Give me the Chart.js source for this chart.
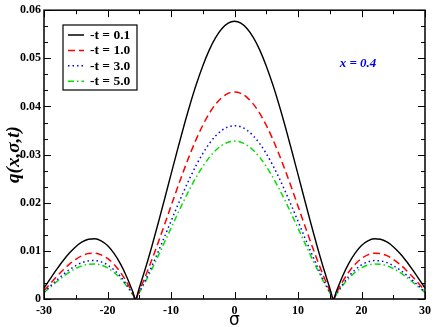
<!DOCTYPE html>
<html>
<head>
<meta charset="utf-8">
<script src="https://cdn.jsdelivr.net/npm/chart.js@4"></script>
<style>
  html, body { margin: 0; padding: 0; background: #fff; }
  #wrap { width: 436px; height: 327px; }
</style>
</head>
<body>
<div id="wrap"><canvas id="chart" width="436" height="327"></canvas></div>
<script>
// sigma sample points (x axis)
const sigma = [-30, -29, -28, -27, -26, -25, -24, -23, -22, -21, -20, -19, -18, -17, -16, -15.6,
  -15, -14, -13, -12, -11, -10, -9, -8, -7, -6, -5, -4, -3, -2, -1, 0,
  1, 2, 3, 4, 5, 6, 7, 8, 9, 10, 11, 12, 13, 14, 15,
  15.6, 16, 17, 18, 19, 20, 21, 22, 23, 24, 25, 26, 27, 28, 29, 30];

// q(x, sigma, t), one array per -t
const qT01 = [0.00228, 0.00424, 0.00615, 0.00795, 0.00954, 0.01087, 0.01185, 0.01242, 0.01251, 0.01208, 0.01110, 0.00953, 0.00740, 0.00469, 0.00144, 0,
  0.00230, 0.00648, 0.01102, 0.01584, 0.02082, 0.02588, 0.03091, 0.03579, 0.04040, 0.04465, 0.04843, 0.05166, 0.05425, 0.05615, 0.05731, 0.0577,
  0.05731, 0.05615, 0.05425, 0.05166, 0.04843, 0.04465, 0.04040, 0.03579, 0.03091, 0.02588, 0.02082, 0.01584, 0.01102, 0.00648, 0.00230,
  0, 0.00144, 0.00469, 0.00740, 0.00953, 0.01110, 0.01208, 0.01251, 0.01242, 0.01185, 0.01087, 0.00954, 0.00795, 0.00615, 0.00424, 0.00228];

const qT10 = [0.00173, 0.00322, 0.00467, 0.00603, 0.00725, 0.00825, 0.00900, 0.00943, 0.00950, 0.00917, 0.00842, 0.00724, 0.00561, 0.00356, 0.00110, 0,
  0.00172, 0.00483, 0.00821, 0.01180, 0.01552, 0.01929, 0.02304, 0.02667, 0.03011, 0.03327, 0.03609, 0.03850, 0.04043, 0.04185, 0.04271, 0.0430,
  0.04271, 0.04185, 0.04043, 0.03850, 0.03609, 0.03327, 0.03011, 0.02667, 0.02304, 0.01929, 0.01552, 0.01180, 0.00821, 0.00483, 0.00172,
  0, 0.00110, 0.00356, 0.00561, 0.00724, 0.00842, 0.00917, 0.00950, 0.00943, 0.00900, 0.00825, 0.00725, 0.00603, 0.00467, 0.00322, 0.00173];

const qT30 = [0.00146, 0.00270, 0.00392, 0.00507, 0.00609, 0.00693, 0.00756, 0.00792, 0.00798, 0.00771, 0.00708, 0.00608, 0.00472, 0.00299, 0.00092, 0,
  0.00144, 0.00404, 0.00688, 0.00988, 0.01299, 0.01615, 0.01929, 0.02233, 0.02521, 0.02786, 0.03022, 0.03223, 0.03385, 0.03504, 0.03576, 0.0360,
  0.03576, 0.03504, 0.03385, 0.03223, 0.03022, 0.02786, 0.02521, 0.02233, 0.01929, 0.01615, 0.01299, 0.00988, 0.00688, 0.00404, 0.00144,
  0, 0.00092, 0.00299, 0.00472, 0.00608, 0.00708, 0.00771, 0.00798, 0.00792, 0.00756, 0.00693, 0.00609, 0.00507, 0.00392, 0.00270, 0.00146];

const qT50 = [0.00133, 0.00247, 0.00358, 0.00463, 0.00556, 0.00633, 0.00690, 0.00723, 0.00728, 0.00704, 0.00646, 0.00555, 0.00431, 0.00273, 0.00084, 0,
  0.00131, 0.00368, 0.00626, 0.00900, 0.01184, 0.01471, 0.01757, 0.02034, 0.02297, 0.02538, 0.02753, 0.02937, 0.03084, 0.03192, 0.03258, 0.0328,
  0.03258, 0.03192, 0.03084, 0.02937, 0.02753, 0.02538, 0.02297, 0.02034, 0.01757, 0.01471, 0.01184, 0.00900, 0.00626, 0.00368, 0.00131,
  0, 0.00084, 0.00273, 0.00431, 0.00555, 0.00646, 0.00704, 0.00728, 0.00723, 0.00690, 0.00633, 0.00556, 0.00463, 0.00358, 0.00247, 0.00133];

const seriesLabels = ['-t = 0.1', '-t = 1.0', '-t = 3.0', '-t = 5.0'];
const xTicks = [-30, -20, -10, 0, 10, 20, 30];
const xMinor = [-25, -15, -5, 5, 15, 25];
const yTicks = [0, 0.01, 0.02, 0.03, 0.04, 0.05, 0.06];

const serif = "'Liberation Serif', 'DejaVu Serif', serif";

const styles = [
  { color: '#000000', dash: [], width: 1.4 },
  { color: '#ff0000', dash: [7, 4], width: 1.5 },
  { color: '#0000ff', dash: [1.5, 3], width: 1.5 },
  { color: '#00e000', dash: [6, 3, 1.5, 3], width: 1.5 }
];

const allSeries = [qT01, qT10, qT30, qT50];

const datasets = allSeries.map((vals, i) => ({
  label: seriesLabels[i],
  data: vals.map((v, j) => ({ x: sigma[j], y: v })),
  borderColor: styles[i].color,
  borderWidth: styles[i].width,
  borderDash: styles[i].dash,
  pointRadius: 0,
  cubicInterpolationMode: 'monotone',
  fill: false,
}));

// frame, inward ticks, legend and the "x = 0.4" note
const decorations = {
  id: 'decorations',
  afterDraw(chart) {
    const { ctx, chartArea: a, scales } = chart;
    const xs = scales.x, ys = scales.y;
    ctx.save();
    ctx.strokeStyle = '#000';
    ctx.lineWidth = 1.5;
    ctx.setLineDash([]);
    ctx.strokeRect(a.left, a.top, a.right - a.left, a.bottom - a.top);

    ctx.lineWidth = 1;
    ctx.beginPath();
    const xTick = (v, len) => {
      const px = Math.round(xs.getPixelForValue(v)) + 0.5;
      ctx.moveTo(px, a.bottom); ctx.lineTo(px, a.bottom - len);
      ctx.moveTo(px, a.top); ctx.lineTo(px, a.top + len);
    };
    const yTick = (v, len) => {
      const py = Math.round(ys.getPixelForValue(v)) + 0.5;
      ctx.moveTo(a.left, py); ctx.lineTo(a.left + len, py);
      ctx.moveTo(a.right, py); ctx.lineTo(a.right - len, py);
    };
    xTicks.forEach(v => xTick(v, 7));
    xMinor.forEach(v => xTick(v, 4));
    yTicks.forEach(v => yTick(v, 7));
    for (let k = 1; k < 18; k++) {
      if (k % 3 !== 0) yTick(k * 0.01 / 3, 4);
    }
    ctx.stroke();

    // legend
    const bx = 63, by = 25, bw = 74, bh = 65;
    ctx.lineWidth = 1.2;
    ctx.strokeRect(bx, by, bw, bh);
    ctx.font = 'bold 13.5px ' + serif;
    ctx.textBaseline = 'middle';
    ctx.textAlign = 'left';
    seriesLabels.forEach((lab, i) => {
      const y = by + 10 + i * 15.4;
      ctx.strokeStyle = styles[i].color;
      ctx.lineWidth = 1.5;
      ctx.setLineDash(styles[i].dash);
      ctx.beginPath();
      ctx.moveTo(68, y); ctx.lineTo(84, y);
      ctx.stroke();
      ctx.setLineDash([]);
      ctx.fillStyle = '#000';
      ctx.fillText(lab, 90, y + 0.5);
    });

    ctx.fillStyle = '#0000ee';
    ctx.font = 'italic bold 13px ' + serif;
    ctx.textAlign = 'center';
    ctx.fillText('x = 0.4', 358, 64);
    ctx.restore();
  }
};

new Chart(document.getElementById('chart'), {
  type: 'line',
  data: { datasets },
  options: {
    responsive: false,
    animation: false,
    devicePixelRatio: 1,
    layout: { padding: { top: 5, right: 7, left: 0, bottom: 0 } },
    plugins: {
      legend: { display: false },
      tooltip: { enabled: false }
    },
    scales: {
      x: {
        type: 'linear',
        min: -30,
        max: 30,
        afterBuildTicks: (scale) => { scale.ticks = xTicks.map(v => ({ value: v })); },
        afterFit: (scale) => { scale.height = 28; },
        grid: { display: false, drawTicks: false },
        border: { display: false },
        ticks: {
          color: '#000',
          padding: 5,
          maxRotation: 0,
          autoSkip: false,
          font: { family: serif, weight: 'bold', size: 12 }
        },
        title: {
          display: true,
          text: 'σ',
          color: '#000',
          padding: { top: 0, bottom: 0 },
          font: { family: "'DejaVu Sans', sans-serif", size: 17, lineHeight: 0.8 }
        }
      },
      y: {
        type: 'linear',
        min: 0,
        max: 0.06,
        afterBuildTicks: (scale) => { scale.ticks = yTicks.map(v => ({ value: v })); },
        afterFit: (scale) => { scale.width = 44; },
        grid: { display: false, drawTicks: false },
        border: { display: false },
        ticks: {
          color: '#000',
          padding: 3,
          autoSkip: false,
          font: { family: serif, weight: 'bold', size: 12 },
          callback: (v) => v === 0 ? '0' : v.toFixed(2)
        },
        title: {
          display: true,
          text: 'q(x,σ,t)',
          color: '#000',
          padding: { top: 3, bottom: 0 },
          font: { family: serif, weight: 'bold', style: 'italic', size: 19 }
        }
      }
    }
  },
  plugins: [decorations]
});
</script>
</body>
</html>
